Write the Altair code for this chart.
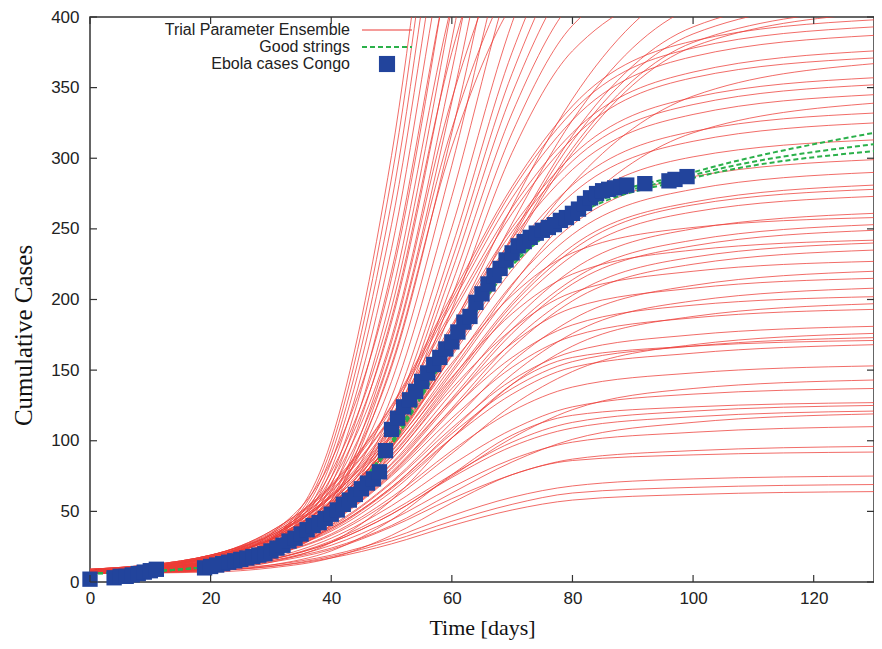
import altair as alt
import pandas as pd

# ---------------- data ----------------
grid_days = [0, 20, 30, 40, 50, 60, 70, 80, 100, 130]

# trial parameter ensemble (cumulative cases at grid_days), one list per member
ensemble_curves = [
    # fast members leaving the top of the frame early
    [6, 12, 30, 100, 302, 610, 812, 882, 904, 906],
    [6, 12, 29, 95, 286, 576, 767, 833, 854, 856],
    [6, 11, 28, 90, 269, 543, 722, 784, 804, 806],
    [6, 11, 26, 85, 253, 509, 677, 736, 755, 756],
    [6, 11, 25, 80, 236, 476, 633, 687, 705, 706],
    [6, 10, 24, 74, 220, 442, 588, 638, 655, 656],
    [6, 10, 22, 69, 203, 409, 543, 590, 605, 606],
    [6, 10, 21, 64, 187, 375, 498, 541, 555, 556],
    [6, 9, 20, 58, 170, 342, 454, 492, 505, 506],
    [6, 9, 19, 55, 161, 321, 427, 463, 475, 476],
    [6, 9, 18, 53, 154, 308, 409, 444, 455, 456],
    [7, 15, 34, 86, 215, 451, 715, 887, 991, 1005],
    [7, 14, 31, 78, 194, 407, 644, 799, 893, 906],
    [7, 14, 30, 74, 184, 384, 609, 755, 843, 856],
    [7, 13, 28, 70, 173, 362, 573, 711, 794, 806],
    [7, 13, 27, 66, 163, 340, 538, 667, 745, 756],
    [7, 13, 26, 62, 152, 318, 502, 623, 696, 706],
    [7, 12, 24, 58, 142, 295, 467, 579, 646, 656],
    [7, 12, 23, 54, 131, 273, 431, 535, 597, 606],
    [7, 11, 21, 50, 121, 251, 396, 491, 548, 556],
    [7, 11, 21, 48, 115, 237, 375, 464, 518, 526],
    [7, 11, 20, 46, 110, 228, 360, 447, 498, 506],
    [7, 10, 19, 44, 106, 220, 346, 429, 479, 486],
    [6, 10, 19, 43, 102, 211, 332, 411, 459, 466],
    [6, 10, 18, 41, 98, 202, 318, 394, 439, 446],
    [6, 10, 18, 40, 94, 193, 304, 376, 420, 426],
    # slower members leaving the top late
    [9, 19, 33, 60, 108, 180, 266, 342, 425, 453],
    [9, 18, 31, 57, 103, 172, 254, 327, 407, 433],
    [8, 18, 30, 55, 100, 167, 245, 316, 393, 418],
    [8, 17, 30, 55, 99, 165, 243, 312, 388, 413],
    [8, 17, 30, 54, 97, 162, 239, 307, 382, 406],
    [8, 17, 30, 54, 96, 161, 237, 304, 379, 403],
    # members that level off inside the frame
    [9, 19, 36, 69, 125, 203, 280, 337, 383, 398],
    [9, 19, 36, 68, 124, 200, 277, 333, 378, 393],
    [9, 19, 35, 67, 122, 197, 272, 327, 372, 387],
    [8, 19, 34, 65, 118, 192, 265, 318, 361, 376],
    [8, 18, 34, 64, 117, 189, 261, 314, 357, 371],
    [7, 18, 33, 61, 104, 162, 227, 282, 344, 367],
    [8, 18, 33, 62, 113, 182, 251, 302, 343, 357],
    [8, 18, 32, 61, 111, 180, 248, 298, 338, 352],
    [8, 18, 32, 60, 109, 176, 243, 292, 331, 345],
    [7, 17, 31, 56, 96, 150, 210, 261, 318, 339],
    [8, 17, 31, 58, 105, 170, 234, 281, 319, 332],
    [8, 17, 30, 57, 103, 166, 229, 275, 312, 325],
    [8, 16, 29, 55, 99, 160, 221, 265, 301, 313],
    [8, 16, 28, 53, 95, 153, 211, 253, 287, 299],
    [8, 16, 28, 51, 92, 148, 205, 246, 278, 290],
    [8, 15, 27, 50, 90, 144, 198, 238, 269, 281],
    [8, 15, 27, 49, 89, 142, 196, 235, 267, 278],
    [8, 15, 26, 49, 87, 140, 193, 231, 262, 273],
    [8, 15, 25, 47, 84, 134, 184, 221, 250, 261],
    [8, 15, 28, 54, 99, 155, 203, 233, 251, 258],
    [8, 14, 25, 45, 81, 130, 179, 214, 242, 253],
    [8, 14, 25, 45, 80, 128, 176, 211, 238, 249],
    [7, 15, 26, 51, 93, 145, 190, 218, 235, 242],
    [8, 14, 24, 43, 77, 123, 170, 203, 230, 240],
    [8, 14, 23, 43, 76, 121, 166, 199, 225, 235],
    [7, 14, 25, 48, 87, 137, 179, 205, 220, 227],
    [7, 13, 22, 40, 71, 113, 156, 186, 210, 220],
    [7, 14, 24, 46, 83, 129, 169, 194, 208, 215],
    [7, 13, 21, 38, 67, 107, 147, 176, 199, 208],
    [7, 13, 23, 43, 78, 122, 159, 182, 196, 202],
    [7, 13, 21, 36, 64, 102, 140, 167, 188, 197],
    [7, 13, 22, 42, 75, 116, 152, 174, 187, 193],
    [7, 12, 21, 39, 70, 109, 143, 163, 175, 181],
    [7, 12, 19, 33, 58, 91, 125, 149, 168, 176],
    [7, 12, 20, 38, 67, 105, 137, 156, 167, 173],
    [6, 9, 14, 28, 58, 102, 140, 159, 167, 171],
    [7, 12, 20, 37, 66, 102, 133, 152, 162, 168],
    [7, 11, 19, 34, 60, 93, 121, 138, 148, 153],
    [7, 11, 16, 28, 48, 75, 102, 122, 137, 143],
    [7, 11, 17, 31, 54, 83, 108, 124, 133, 137],
    [6, 8, 12, 22, 44, 76, 104, 118, 124, 127],
    [7, 10, 16, 29, 50, 76, 99, 113, 121, 125],
    [7, 10, 16, 28, 48, 74, 96, 109, 117, 121],
    [7, 10, 15, 24, 40, 63, 85, 101, 113, 119],
    [7, 10, 15, 26, 44, 67, 87, 99, 106, 110],
    [7, 9, 14, 23, 39, 59, 76, 87, 93, 96],
    [6, 7, 10, 17, 33, 56, 76, 86, 90, 92],
    [6, 9, 12, 19, 31, 47, 60, 68, 73, 75],
    [6, 8, 11, 18, 29, 43, 55, 63, 67, 69],
    [6, 8, 11, 17, 27, 40, 51, 58, 62, 64],
]

# good strings (green dashed), same grid
good_strings = [
    [6, 11, 21, 45, 100, 170, 228, 262, 290, 318],
    [6, 11, 21, 45, 98, 168, 226, 260, 288, 310],
    [6, 11, 20, 44, 97, 166, 224, 258, 286, 305],
]

# Ebola cases Congo (blue squares)
case_days = [0, 4, 5, 6, 7, 8, 9, 10, 11,
             19, 20, 21, 22, 23, 24, 25, 26, 27, 28, 29, 30, 31, 32, 33, 34,
             35, 36, 37, 38, 39, 40, 41, 42, 43, 44, 45, 46, 47, 48, 49, 50,
             51, 52, 53, 54, 55, 56, 57, 58, 59, 60, 61, 62, 63, 64, 65, 66,
             67, 68, 69, 70, 71, 72, 73, 74, 75, 76, 77, 78, 79, 80, 81, 82,
             83, 84, 85, 86, 87, 88, 89, 92, 96, 97, 99]
case_counts = [2, 3, 4, 4, 5, 6, 7, 8, 9,
               10, 11, 12, 13, 14, 15, 16, 17, 18, 19, 20, 22, 24, 26, 29, 31,
               34, 37, 40, 42, 45, 48, 51, 55, 58, 62, 66, 70, 73, 78, 93, 108,
               116, 124, 129, 135, 142, 148, 154, 159, 165, 170, 177, 184, 188, 198, 204, 211,
               217, 222, 228, 233, 238, 241, 244, 247, 249, 251, 253, 256, 258, 261, 264, 268,
               272, 275, 277, 278, 279, 280, 281, 282, 284, 285, 287]

x_ticks = [0, 20, 40, 60, 80, 100, 120]
y_ticks = [0, 50, 100, 150, 200, 250, 300, 350, 400]

legend_labels = ["Trial Parameter Ensemble", "Good strings", "Ebola cases Congo"]

# ---------------- styling / layout ----------------
W, H = 784, 565
PAD_L, PAD_T, PAD_B = 82, 9, 59
RED = "#ec3b36"
GREEN = "#2bb04a"
BLUE = "#22449c"
SANS = "Liberation Sans"
SERIF = "Liberation Serif"

red_df = pd.DataFrame([
    {"curve": i, "t": t, "v": v}
    for i, c in enumerate(ensemble_curves)
    for t, v in zip(grid_days, c)
])
green_df = pd.DataFrame([
    {"curve": i, "t": t, "v": v}
    for i, c in enumerate(good_strings)
    for t, v in zip(grid_days, c)
])
cases_df = pd.DataFrame({"t": case_days, "v": case_counts})
xt_df = pd.DataFrame({"t": x_ticks})
yt_df = pd.DataFrame({"v": y_ticks})

xscale = alt.Scale(domain=[0, 130], nice=False, zero=False)
yscale = alt.Scale(domain=[0, 400], nice=False)
xaxis = alt.Axis(values=x_ticks, title="Time [days]", grid=False, domain=False,
                 ticks=False, labelFont=SANS, labelFontSize=17, labelColor="#222",
                 labelPadding=8, labelFlush=False, titleFont=SERIF, titleFontSize=22,
                 titleFontWeight="normal", titleColor="#111",
                 titleBaseline="alphabetic", titleY=52)
yaxis = alt.Axis(values=y_ticks, title="Cumulative Cases", grid=False, domain=False,
                 ticks=False, labelFont=SANS, labelFontSize=17, labelColor="#222",
                 labelPadding=11, labelFlush=False, titleFont=SERIF, titleFontSize=25,
                 titleFontWeight="normal", titleColor="#111",
                 titleAngle=270, titleBaseline="middle", titleX=-67, titleY=318)


def X(field="t"):
    return alt.X(f"{field}:Q", scale=xscale, axis=xaxis)


def Y(field="v"):
    return alt.Y(f"{field}:Q", scale=yscale, axis=yaxis)


red = alt.Chart(red_df).mark_line(
    interpolate="monotone", clip=True, color=RED, strokeWidth=1, opacity=0.75
).encode(x=X(), y=Y(), detail="curve:N")

green = alt.Chart(green_df).mark_line(
    interpolate="monotone", clip=True, color=GREEN, strokeWidth=2, strokeDash=[5, 3]
).encode(x=X(), y=Y(), detail="curve:N")

squares = alt.Chart(cases_df).mark_square(
    size=235, color=BLUE, opacity=1, filled=True
).encode(x=X(), y=Y())

# inward tick marks on all four sides
tick_len = 7
bottom_ticks = alt.Chart(xt_df).mark_rule(color="#333", strokeWidth=1.2).encode(
    x=X(), y=alt.value(H), y2=alt.value(H - tick_len))
top_ticks = alt.Chart(xt_df).mark_rule(color="#333", strokeWidth=1.2).encode(
    x=X(), y=alt.value(0), y2=alt.value(tick_len))
left_ticks = alt.Chart(yt_df).mark_rule(color="#333", strokeWidth=1.2).encode(
    y=Y(), x=alt.value(0), x2=alt.value(tick_len))
right_ticks = alt.Chart(yt_df).mark_rule(color="#333", strokeWidth=1.2).encode(
    y=Y(), x=alt.value(W - tick_len), x2=alt.value(W))

# key (gnuplot style: text right-aligned, sample to the right)
one = alt.Data(values=[{"k": 0}])
key_x_text, key_y0, key_dy = 260, 13, 17
key_layers = []
for i, lab in enumerate(legend_labels):
    key_layers.append(
        alt.Chart(one).mark_text(align="right", baseline="middle", font=SANS,
                                 fontSize=16, color="#222").encode(
            x=alt.value(key_x_text), y=alt.value(key_y0 + i * key_dy),
            text=alt.value(lab)))
key_layers.append(alt.Chart(one).mark_rule(color=RED, strokeWidth=1.2).encode(
    x=alt.value(272), x2=alt.value(322), y=alt.value(key_y0)))
key_layers.append(alt.Chart(one).mark_rule(color=GREEN, strokeWidth=2, strokeDash=[5, 3]).encode(
    x=alt.value(272), x2=alt.value(322), y=alt.value(key_y0 + key_dy)))
key_layers.append(alt.Chart(one).mark_square(size=260, color=BLUE, filled=True, opacity=1).encode(
    x=alt.value(297), y=alt.value(key_y0 + 2 * key_dy)))

chart = alt.layer(
    red, green, squares, bottom_ticks, top_ticks, left_ticks, right_ticks, *key_layers
).properties(
    width=W, height=H,
    autosize=alt.AutoSizeParams(type="none"),
    padding={"left": PAD_L, "top": PAD_T, "right": 0, "bottom": PAD_B},
    background="white",
).configure_view(stroke="#333", strokeWidth=1.5)

chart.save("out.html", embed_options={"renderer": "svg", "actions": False})
